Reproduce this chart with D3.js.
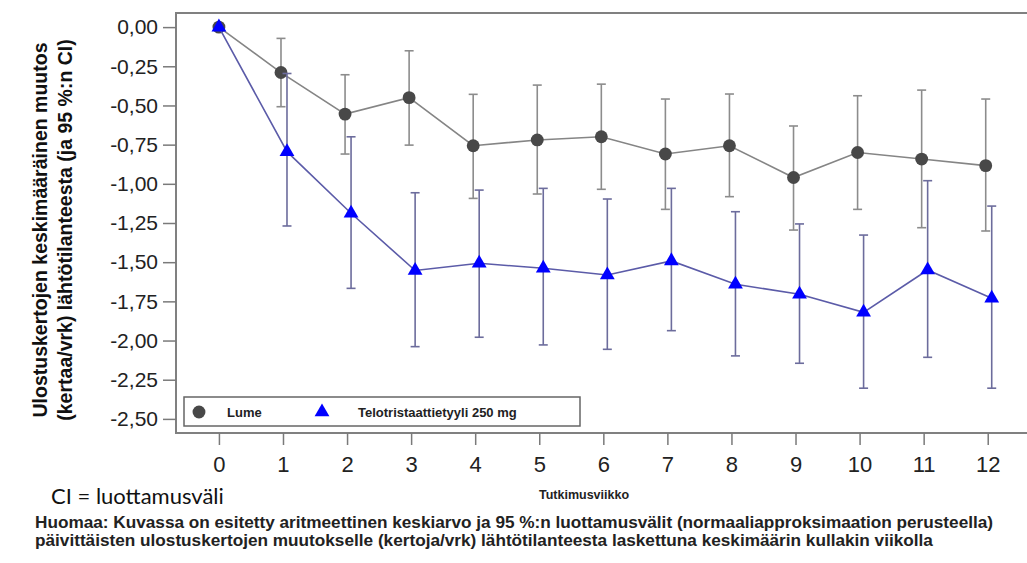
<!DOCTYPE html>
<html>
<head>
<meta charset="utf-8">
<script src="https://cdn.jsdelivr.net/npm/d3@7"></script>
<style>
	body { margin: 0; background: #ffffff; }
	svg { display: block; font-family: Arial, "Liberation Sans", sans-serif; }
</style>
</head>
<body>
<script>
	var weeks = [ 0, 1, 2, 3, 4, 5, 6, 7, 8, 9, 10, 11, 12 ];
	var yTicks = [ 0, -0.25, -0.5, -0.75, -1, -1.25, -1.5, -1.75, -2, -2.25, -2.5 ];

	// Lume (placebo)
	var lumeMean = [ 0, -0.29, -0.555, -0.45, -0.757, -0.72, -0.70, -0.81, -0.757, -0.96, -0.80, -0.842, -0.884 ];
	var lumeLow = [ null, -0.508, -0.81, -0.753, -1.093, -1.065, -1.035, -1.163, -1.082, -1.295, -1.163, -1.28, -1.301 ];
	var lumeHigh = [ null, -0.072, -0.304, -0.151, -0.429, -0.37, -0.364, -0.459, -0.427, -0.631, -0.438, -0.402, -0.459 ];

	// Telotristaattietyyli 250 mg
	var teloMean = [ 0, -0.795, -1.188, -1.553, -1.507, -1.539, -1.582, -1.492, -1.641, -1.705, -1.82, -1.55, -1.73 ];
	var teloLow = [ null, -1.269, -1.667, -2.039, -1.979, -2.028, -2.056, -1.937, -2.098, -2.145, -2.304, -2.107, -2.304 ];
	var teloHigh = [ null, -0.296, -0.70, -1.057, -1.04, -1.029, -1.097, -1.029, -1.178, -1.256, -1.327, -0.98, -1.142 ];

	var seriesNames = [ "Lume", "Telotristaattietyyli 250 mg" ];
	var yTitle = [ "Ulostuskertojen keskimääräinen muutos", "(kertaa/vrk) lähtötilanteesta (ja 95 %:n CI)" ];
	var xTitle = "Tutkimusviikko";
	var ciNote = "CI = luottamusväli";
	var footnote = [
		"Huomaa: Kuvassa on esitetty aritmeettinen keskiarvo ja 95 %:n luottamusvälit (normaaliapproksimaation perusteella)",
		"päivittäisten ulostuskertojen muutokselle (kertoja/vrk) lähtötilanteesta laskettuna keskimäärin kullakin viikolla" ];

	var width = 1027, height = 563;
	var plot = { left : 176, right : 1030, top : 13, bottom : 433 };

	var x = d3.scaleLinear().domain([ -0.67, 12.66 ]).range([ plot.left, plot.right ]);
	var y = d3.scaleLinear().domain([ 0.09, -2.59 ]).range([ plot.top, plot.bottom ]);

	function fmt(v) {
		return d3.format(".2f")(v).replace(".", ",").replace("\u2212", "-");
	}

	function makeSeries(mean, low, high) {
		return weeks.map(function(w, i) {
			return { week : w, mean : mean[i], low : low[i], high : high[i] };
		});
	}

	var series = [ {
		name : seriesNames[0],
		points : makeSeries(lumeMean, lumeLow, lumeHigh),
		offset : -2,
		line : "#858585",
		bar : "#8c8c8c",
		marker : "#484848",
		symbol : d3.symbolCircle,
		size : 130
	}, {
		name : seriesNames[1],
		points : makeSeries(teloMean, teloLow, teloHigh),
		offset : 4,
		line : "#5b5ba8",
		bar : "#6c6c9c",
		marker : "#0000ff",
		symbol : d3.symbolTriangle,
		size : 95
	} ];

	var svg = d3.select("body").append("svg")//
	.attr("width", width)//
	.attr("height", height);

	// frame
	svg.append("rect")//
	.attr("x", plot.left)//
	.attr("y", plot.top)//
	.attr("width", plot.right - plot.left)//
	.attr("height", plot.bottom - plot.top)//
	.attr("fill", "none")//
	.attr("stroke", "#808080")//
	.attr("stroke-width", 2);

	// axes
	var yAxis = svg.append("g")//
	.attr("transform", "translate(" + plot.left + ",0)")//
	.call(d3.axisLeft(y).tickValues(yTicks).tickFormat(fmt).tickSize(13).tickPadding(5));

	var xAxis = svg.append("g")//
	.attr("transform", "translate(0," + plot.bottom + ")")//
	.call(d3.axisBottom(x).tickValues(weeks).tickFormat(d3.format("d")).tickSize(12).tickPadding(11));

	[ yAxis, xAxis ].forEach(function(a) {
		a.select(".domain").remove();
		a.selectAll(".tick line").attr("stroke", "#7a7a7a").attr("stroke-width", 1.5);
		a.selectAll(".tick text").attr("fill", "#222").attr("font-family", "Arial, 'Liberation Sans', sans-serif");
	});
	yAxis.selectAll(".tick text").attr("font-size", 21);
	xAxis.selectAll(".tick text").attr("font-size", 22);

	function px(s, d) {
		return x(d.week) + (d.week === 0 ? 0 : s.offset);
	}

	series.forEach(function(s) {
		var g = svg.append("g");

		g.append("path")//
		.datum(s.points)//
		.attr("fill", "none")//
		.attr("stroke", s.line)//
		.attr("stroke-width", 1.6)//
		.attr("d", d3.line().x(function(d) {
			return px(s, d);
		}).y(function(d) {
			return y(d.mean);
		}));

		var bars = g.selectAll(".bar").data(s.points.filter(function(d) {
			return d.low != null;
		})).enter().append("g").attr("class", "bar")//
		.attr("stroke", s.bar)//
		.attr("stroke-width", 1.6);

		bars.append("line")//
		.attr("x1", function(d) { return px(s, d); })//
		.attr("x2", function(d) { return px(s, d); })//
		.attr("y1", function(d) { return y(d.high); })//
		.attr("y2", function(d) { return y(d.low); });

		[ "high", "low" ].forEach(function(k) {
			bars.append("line")//
			.attr("x1", function(d) { return px(s, d) - 4.5; })//
			.attr("x2", function(d) { return px(s, d) + 4.5; })//
			.attr("y1", function(d) { return y(d[k]); })//
			.attr("y2", function(d) { return y(d[k]); });
		});

		g.selectAll(".marker").data(s.points).enter().append("path")//
		.attr("class", "marker")//
		.attr("d", d3.symbol().type(s.symbol).size(s.size))//
		.attr("fill", s.marker)//
		.attr("transform", function(d) {
			return "translate(" + px(s, d) + "," + y(d.mean) + ")";
		});
	});

	// legend
	var legend = svg.append("g");
	legend.append("rect")//
	.attr("x", 184)//
	.attr("y", 397)//
	.attr("width", 396)//
	.attr("height", 29)//
	.attr("fill", "#ffffff")//
	.attr("stroke", "#666")//
	.attr("stroke-width", 1.5);

	var legendItems = [ { sym : 199, text : 227 }, { sym : 322, text : 358 } ];
	legendItems.forEach(function(item, i) {
		var s = series[i];
		legend.append("path")//
		.attr("d", d3.symbol().type(s.symbol).size(s.size))//
		.attr("fill", s.marker)//
		.attr("transform", "translate(" + item.sym + ",412)");
		legend.append("text")//
		.attr("x", item.text)//
		.attr("y", 417)//
		.attr("font-size", 13)//
		.attr("font-weight", "bold")//
		.attr("fill", "#222")//
		.text(s.name);
	});

	// y title
	var yt = svg.append("text")//
	.attr("transform", "translate(47,230) rotate(-90)")//
	.attr("text-anchor", "middle")//
	.attr("font-size", 19.5)//
	.attr("font-weight", "bold")//
	.attr("fill", "#111");
	yTitle.forEach(function(t, i) {
		yt.append("tspan").attr("x", 0).attr("dy", i == 0 ? 0 : 25).text(t);
	});

	// x title
	svg.append("text")//
	.attr("x", 584)//
	.attr("y", 499)//
	.attr("text-anchor", "middle")//
	.attr("font-size", 12.5)//
	.attr("font-weight", "bold")//
	.attr("fill", "#222")//
	.text(xTitle);

	svg.append("text")//
	.attr("x", 51)//
	.attr("y", 504)//
	.attr("font-family", "Lato, 'Open Sans', sans-serif")//
	.attr("font-size", 22)//
	.attr("fill", "#111")//
	.text(ciNote);

	footnote.forEach(function(t, i) {
		svg.append("text")//
		.attr("x", 35)//
		.attr("y", 528 + i * 18)//
		.attr("font-size", 17.2)//
		.attr("font-weight", "bold")//
		.attr("fill", "#222")//
		.text(t);
	});
</script>
</body>
</html>
